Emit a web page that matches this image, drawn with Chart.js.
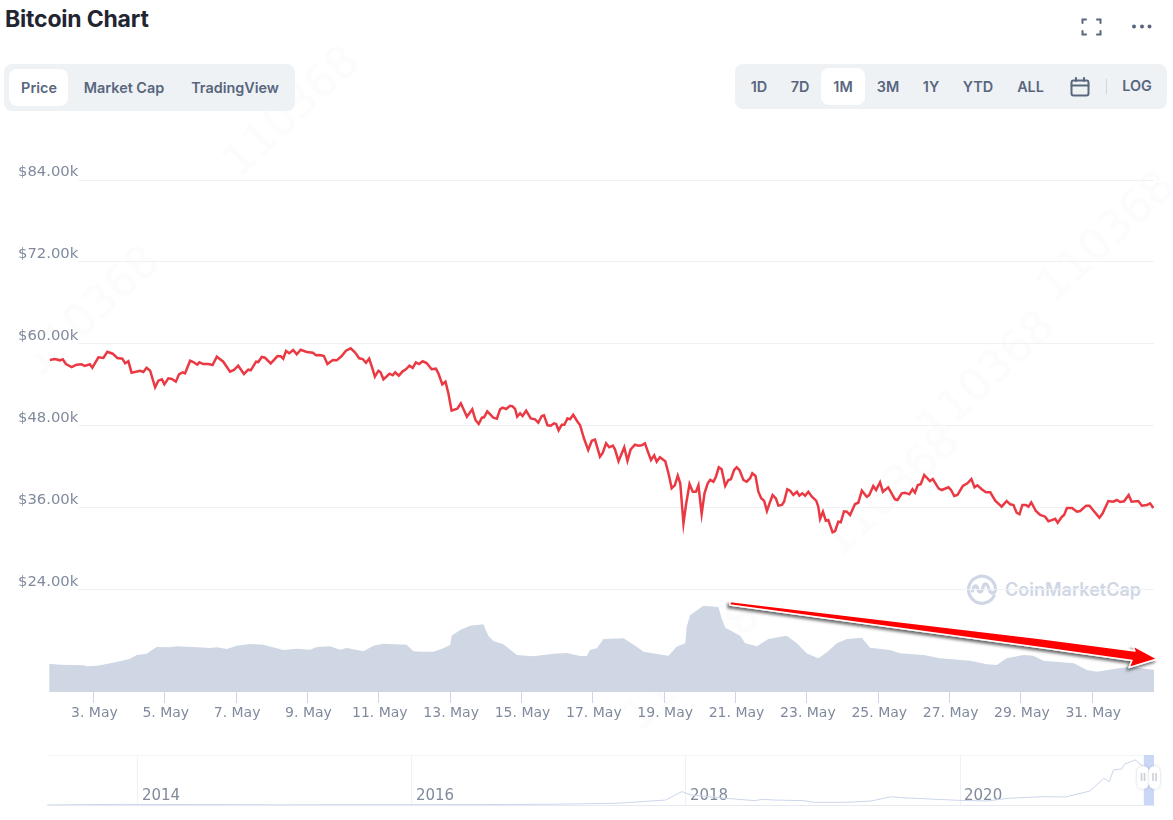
<!DOCTYPE html>
<html>
<head>
<meta charset="utf-8">
<title>Bitcoin Chart</title>
<script src="https://cdn.jsdelivr.net/npm/chart.js@4/dist/chart.umd.min.js"></script>
<style>
  html, body { margin: 0; padding: 0; background: #fff; }
  #page { position: relative; width: 1173px; height: 820px; overflow: hidden; font-family: Inter, sans-serif; }
  #page > * { position: absolute; }
  canvas { position: absolute; left: 0; }
  #chart-main { top: 0; }
  #chart-nav { top: 745px; }
  h1 { margin: 0; left: 5px; top: 5px; font-size: 23px; line-height: 28px; font-weight: 700; color: #222531; letter-spacing: -0.2px; }
  .panel { background: #eff2f5; border-radius: 8px; }
  .tab { position: absolute; top: 0; transform: translateX(-50%); font-size: 14.4px; font-weight: 600; color: #58667e; white-space: nowrap; }
  .chip { position: absolute; background: #fff; border-radius: 8px; }
  .mark { left: 967px; top: 574px; }
  .brand { left: 1005px; top: 578px; font-size: 18px; line-height: 24px; font-weight: 600; color: #cfd6e4; }
  .ghost { color: #fcfcfc; font-size: 44px; font-family: "DejaVu Sans", sans-serif; transform: translate(-50%, -50%) rotate(-43deg); white-space: nowrap; }
  .grip { background: #fff; border-radius: 7px; box-shadow: 0 0 3px rgba(120,130,150,.35); color: #ccd0d8; font-size: 11px; line-height: 23px; text-align: center; font-weight: 700; }
</style>
</head>
<body>
<div id="page">
  <span class="ghost" style="left:290px;top:110px">110368</span>
  <span class="ghost" style="left:90px;top:310px">110368</span>
  <span class="ghost" style="left:1105px;top:235px">110368</span>
  <span class="ghost" style="left:985px;top:375px">110368</span>
  <span class="ghost" style="left:690px;top:665px">110368</span>
  <span class="ghost" style="left:890px;top:490px">110368</span>

  <h1>Bitcoin Chart</h1>

  <svg style="left:1080px;top:16px" width="24" height="22" fill="none" stroke="#58667e" stroke-width="2" stroke-linecap="round">
    <path d="M2.5 7V3.5H6M17 3.5h3.5V7M2.5 15v3.5H6M17 18.5h3.5V15"/>
  </svg>
  <svg style="left:1130px;top:20px" width="24" height="12" fill="#58667e">
    <circle cx="4" cy="6.5" r="2"/><circle cx="12" cy="6.5" r="2"/><circle cx="19.5" cy="6.5" r="2"/>
  </svg>

  <div class="panel" style="left:4px;top:64px;width:291px;height:47px">
    <div class="chip" style="left:5px;top:5px;width:59px;height:37px"></div>
    <span class="tab" style="left:35px;top:15px">Price</span>
    <span class="tab" style="left:120px;top:15px">Market Cap</span>
    <span class="tab" style="left:231px;top:15px">TradingView</span>
  </div>

  <div class="panel" style="left:735px;top:64px;width:432px;height:45px">
    <div class="chip" style="left:86px;top:4px;width:44px;height:37px"></div>
    <span class="tab" style="left:24px;top:14px">1D</span>
    <span class="tab" style="left:65px;top:14px">7D</span>
    <span class="tab" style="left:108px;top:14px">1M</span>
    <span class="tab" style="left:153px;top:14px">3M</span>
    <span class="tab" style="left:196px;top:14px">1Y</span>
    <span class="tab" style="left:243px;top:14px">YTD</span>
    <span class="tab" style="left:295.500px;top:14px">ALL</span>
    <svg style="position:absolute;left:335px;top:13px" width="20" height="20" fill="none" stroke="#58667e" stroke-width="2" stroke-linecap="round">
      <rect x="1.500" y="3.500" width="17" height="15" rx="2"/><path d="M1.500 8.500h17M6 1v3M14 1v3"/>
    </svg>
    <div style="position:absolute;left:371px;top:15px;width:1px;height:15px;background:#cfd6e4"></div>
    <span class="tab" style="left:402px;top:13px">LOG</span>
  </div>

  <svg class="mark" width="32" height="32" fill="none" stroke="#cfd6e4" stroke-width="3.200" stroke-linecap="round" stroke-linejoin="round">
    <path d="M27 22a13.500 13.500 0 1 1 1.500-7c0 5-4.500 5-6 1.500l-2-5c-1-2.500-3.500-2-4 .5l-1.500 4.500c-.7 2.200-3 2.200-3.700 0l-1-3c-.8-2.400-3-2-3.800.5L5.500 17"/>
  </svg>
  <span class="brand">CoinMarketCap</span>

  <canvas id="chart-main" width="1173" height="750"></canvas>
  <canvas id="chart-nav" width="1173" height="70"></canvas>

  <div class="grip" style="left:1137px;top:766px;width:12px;height:23px">II</div>
  <div class="grip" style="left:1149px;top:766px;width:11px;height:23px">II</div>

  <svg style="left:700px;top:585px" width="473" height="100" viewBox="700 585 473 100">
    <defs>
      <filter id="drop" x="-5%" y="-30%" width="110%" height="170%">
        <feDropShadow dx="-2" dy="2.500" stdDeviation="1.600" flood-color="#000" flood-opacity=".6"/>
      </filter>
    </defs>
    <polygon points="730,601.500 1040,638.500 1135,651 1133,646 1157,659 1129,667.500 1132,660.500 1040,647.500 730,605" fill="#f00" stroke="#fff" stroke-width="1.400" stroke-linejoin="round" filter="url(#drop)"/>
  </svg>
</div>

<script>
// Price curve: day of May (fractions are hours into the day) and USD price
const priceDays = [
  1.78,1.92,2.06,2.14,2.23,2.39,2.53,2.67,2.76,2.90,2.97,3.14,3.28,3.39,3.54,3.67,3.81,3.89,3.98,4.07,
  4.31,4.40,4.49,4.59,4.73,4.82,4.92,4.99,5.10,5.20,5.31,5.40,5.50,5.57,5.71,5.80,5.91,5.97,6.08,6.22,
  6.34,6.46,6.64,6.83,6.94,7.06,7.22,7.34,7.41,7.56,7.62,7.72,7.81,7.97,8.16,8.25,8.32,8.40,8.49,8.60,
  8.70,8.81,8.98,9.15,9.24,
  9.35,9.46,9.56,9.71,9.82,9.96,10.08,10.21,10.33,10.45,10.55,10.64,10.73,10.82,10.89,10.99,11.05,11.13,11.30,11.39,
  11.46,11.56,11.67,11.76,11.86,11.95,12.04,12.13,12.23,12.34,12.48,12.60,12.67,12.78,12.87,12.95,13.04,13.20,13.30,13.47,
  13.62,13.71,13.80,13.89,13.95,14.04,14.21,14.31,14.40,14.47,14.57,14.68,14.74,14.82,14.88,14.96,15.03,15.13,15.26,15.38,
  15.47,15.57,15.63,15.73,15.82,15.91,15.97,16.04,16.13,16.20,16.29,16.36,16.45,16.57,16.64,16.75,16.87,16.97,17.06,
  17.20,17.28,17.37,17.46,17.56,17.62,17.72,17.88,17.97,18.06,18.18,18.28,18.37,18.46,18.56,18.63,18.72,18.79,18.88,19.03,
  19.12,19.21,19.30,19.38,19.45,19.54,19.61,19.71,19.80,19.89,19.96,20.05,20.13,20.22,20.29,20.38,20.45,20.53,20.61,20.71,
  20.80,20.87,20.96,21.03,21.11,21.22,21.31,21.41,21.47,21.56,21.64,21.72,21.80,21.88,21.97,22.04,22.13,22.20,22.30,22.36,
  22.45,22.53,22.62,22.72,22.79,22.87,22.95,23.04,23.14,23.26,23.32,23.37,23.45,23.53,23.60,23.72,23.79,23.88,23.95,24.04,
  24.12,24.21,24.35,24.44,24.54,24.68,24.75,24.86,24.94,
  25.05,25.13,25.28,25.47,25.54,25.66,25.75,25.87,25.96,26.03,26.11,26.19,26.29,26.45,26.53,26.69,26.78,26.97,27.04,27.13,
  27.22,27.37,27.50,27.61,27.70,27.78,27.90,28.02,28.14,28.28,28.46,28.60,28.70,28.79,28.88,28.96,29.04,29.14,29.21,29.29,
  29.42,29.54,29.68,29.77,29.96,30.03,30.15,30.21,30.29,30.43,30.57,30.66,30.83,30.92,31.20,31.29,31.45,31.59,31.69,31.78,
  31.89,32.02,32.10,32.29,32.39,32.53,32.62,32.71
];
const priceValues = [
  57660,57800,57610,57760,57070,56630,56970,57030,56780,57030,56530,58050,57950,58870,58580,57950,57850,57170,57470,55800,
  56090,55900,56530,56090,53660,54630,54830,54100,54980,54880,54480,55560,55860,55710,57550,57360,56970,57320,57070,57070,
  56930,58140,57410,55950,56200,56820,55610,56240,56150,57410,57360,58100,57990,57170,58240,58200,57850,58970,58640,59120,
  58490,59160,58830,58730,58350,
  58390,58240,57070,57660,57610,58240,59020,59370,58780,57910,57800,57260,57850,56440,55210,56090,55860,54830,55650,55420,
  55860,55360,56000,56300,56820,56490,57320,57070,57470,57220,56300,56390,55710,54100,54480,52780,50240,50530,51320,49360,
  50440,48880,48290,49210,49270,50150,49210,49070,50440,50680,50490,50970,50920,50490,49360,49860,49460,50240,49120,48980,
  48480,49460,49560,48100,48040,48390,48290,47370,48190,48190,49120,48980,49650,48630,48150,46200,44490,45850,46000,
  43510,44090,45470,44880,45120,44590,42830,44880,42920,44590,45260,45120,45170,45470,44000,43020,43710,42780,43420,42830,
  41080,38880,39360,40730,39610,33760,36440,39510,38380,38380,39320,35120,38150,39610,40100,39850,40580,41950,41660,39220,
  40100,40200,41560,41950,41560,40100,39850,40350,41080,40680,38380,37420,37070,35560,36920,37900,37420,36340,36440,36920,
  38740,38530,37900,38380,37800,38150,37800,38380,37650,37070,36190,34390,35460,34140,34240,32440,32630,33990,33910,35520,
  35460,34980,36580,36770,38530,37650,37900,39220,38630,
  39760,38380,39030,37270,37170,38150,38240,38000,38740,38240,39360,39470,40830,39950,40240,38880,38630,39030,38630,37760,
  37900,39220,39610,40240,39030,39320,38740,38300,38300,37070,36190,37020,36540,36440,35310,35080,36440,36440,36190,36830,
  35560,34980,34730,34050,34430,33850,34730,34980,36000,36000,35460,35560,36340,36340,34580,35220,37020,36920,37170,36880,
  36980,37900,36920,37020,36340,36440,36690,36000
];

// 24h volume in USD billions
const volumeDays = [
  1.76,2.06,2.72,2.81,3.09,3.37,3.65,4.03,4.21,4.49,4.77,5.15,5.33,5.80,6.27,6.46,6.74,7.02,7.39,7.76,
  8.14,8.32,8.70,9.07,9.26,9.63,9.91,10.10,10.57,10.85,11.13,11.78,11.97,
  12.16,12.53,12.81,13.00,13.04,13.28,13.56,13.93,14.07,14.21,14.49,14.87,15.33,15.90,16.27,16.64,16.83,16.92,17.11,17.30,
  17.86,18.23,18.42,18.98,19.12,19.35,19.59,19.63,19.73,20.10,20.52,20.61,20.71,21.13,21.27,21.60,21.92,22.43,22.72,22.99,
  23.32,23.56,23.84,24.12,24.54,24.77,25.33,25.61,26.27,26.73,27.58,28.04,28.32,28.60,29.07,29.35,29.63,30.48,30.85,31.13,
  31.60,32.07,32.53,32.76
];
const volumeValues = [
  41,39.6,38.7,37.2,38.2,40.6,43.5,48.3,53.7,55.6,65.3,64.8,66.3,65.3,63.8,64.8,62.4,67.1,69.6,68.6,
  63.4,60.9,62.8,61.3,65.3,66.3,61.3,63.8,59,67.1,70,68.6,59,
  58.5,58.5,63.4,68.2,81.6,89.9,96.1,98.2,81.6,74,69.2,53.7,51.8,55.5,56.6,52.2,52.2,60.9,63.4,76.9,
  77.9,65.7,58.4,53.7,52.6,65.7,70.6,94.7,111.7,125.1,123.3,106.9,93.2,81.6,70.6,66.3,76.9,81.6,70.6,56.1,
  48.9,57.6,70.6,76.9,78.7,64.2,60.9,56.1,53.7,48.9,45.4,40.2,39.2,48.9,53.7,52.6,45.4,41.6,31.9,29.4,
  33.4,36.7,33.4,31.9
];

const priceTicks = [24000, 36000, 48000, 60000, 72000, 84000];
const dayTicks = [3, 5, 7, 9, 11, 13, 15, 17, 19, 21, 23, 25, 27, 29, 31];

// Range navigator: full price history, year as a decimal and price in USD thousands
const navYears = [
  2013.34,2013.9,2014,2014.5,2015,2016,2016.5,2017,2017.5,2017.67,2017.85,2017.93,2017.97,2018.03,2018.29,2018.5,2018.56,2018.65,2018.86,2018.93,
  2019.17,2019.35,2019.5,2019.58,2019.78,2019.99,2020.2,2020.35,2020.6,2020.77,2020.95,2021.05,2021.09,2021.12,2021.18,2021.2,2021.28,2021.32,2021.35,2021.41
];
const navPrices = [
  0.13,0.9,0.8,0.6,0.3,0.43,0.65,1,2.5,4.7,7,15,19,14.5,9.5,6.2,8,7,6.2,3.8,
  3.8,5.7,11.8,10.4,8.5,6.6,5.7,9.5,11.8,11.4,20,38,33,50,51,58,64,57,54,36
];
const navYearTicks = [2014, 2016, 2018, 2020];
const navRange = [2021.34, 2021.416];

const AXIS_FONT = "'DejaVu Sans', sans-serif";
const LABEL_COLOR = '#808a9d';
const GRID_COLOR = '#eff2f5';

const toPoints = (xs, ys) => xs.map((x, i) => ({ x, y: ys[i] }));
const priceLabel = v => `$${(v / 1000).toFixed(2)}k`;

new Chart(document.getElementById('chart-main'), {
  data: {
    datasets: [
      {
        type: 'line',
        data: toPoints(priceDays, priceValues),
        yAxisID: 'y',
        borderColor: '#ea3943',
        borderWidth: 2.5,
        pointRadius: 0,
        tension: 0,
        order: 1,
      },
      {
        type: 'line',
        data: toPoints(volumeDays, volumeValues),
        yAxisID: 'vol',
        borderWidth: 0,
        backgroundColor: '#cfd6e4',
        fill: 'origin',
        pointRadius: 0,
        tension: 0,
        order: 2,
      },
    ],
  },
  options: {
    responsive: false,
    maintainAspectRatio: false,
    animation: false,
    layout: { padding: { left: 18, right: 19, top: 180, bottom: 18 } },
    plugins: { legend: { display: false }, tooltip: { enabled: false } },
    scales: {
      x: {
        type: 'linear',
        min: 0.886,
        max: 32.73,
        afterBuildTicks: s => { s.ticks = dayTicks.map(value => ({ value })); },
        afterFit: s => { s.height = 40; },
        grid: { drawOnChartArea: false, tickLength: 11, tickColor: '#ccd6eb' },
        border: { display: false },
        ticks: {
          autoSkip: false,
          maxRotation: 0,
          padding: 2,
          labelOffset: 1,
          color: LABEL_COLOR,
          font: { family: AXIS_FONT, size: 14 },
          callback: v => `${v}. May`,
        },
      },
      y: {
        min: 9073,
        max: 84000,
        afterBuildTicks: s => { s.ticks = priceTicks.map(value => ({ value })); },
        afterFit: s => { s.width = 0; },
        grid: { color: GRID_COLOR, drawTicks: false, z: -2 },
        border: { display: false },
        ticks: {
          mirror: true,
          padding: 0,
          autoSkip: false,
          color: LABEL_COLOR,
          font: { family: AXIS_FONT, size: 14.8, lineHeight: '15px' },
          // two lines so the visible one sits above its grid line
          callback: v => [priceLabel(v), ''],
        },
      },
      // same ticks, blank text: its backdrop stops the grid line short of the label
      gridStop: {
        position: 'left',
        min: 9073,
        max: 84000,
        afterBuildTicks: s => { s.ticks = priceTicks.map(value => ({ value })); },
        afterFit: s => { s.width = 0; },
        grid: { display: false },
        border: { display: false },
        ticks: {
          z: -1,
          mirror: true,
          padding: 0,
          autoSkip: false,
          color: 'rgba(0,0,0,0)',
          font: { family: AXIS_FONT, size: 14.8 },
          showLabelBackdrop: true,
          backdropColor: '#fff',
          backdropPadding: 0,
          callback: priceLabel,
        },
      },
      vol: {
        display: false,
        min: 0,
        max: 742.4,
      },
    },
  },
});

new Chart(document.getElementById('chart-nav'), {
  data: {
    datasets: [
      {
        type: 'line',
        data: toPoints(navYears, navPrices),
        borderColor: '#ccd6eb',
        borderWidth: 1,
        pointRadius: 0,
        tension: 0,
        order: 1,
      },
      {
        type: 'line',
        data: navRange.map(x => ({ x, y: 71 })),
        borderWidth: 0,
        backgroundColor: 'rgba(194,208,245,.85)',
        fill: 'origin',
        pointRadius: 0,
        order: 2,
      },
    ],
  },
  options: {
    responsive: false,
    maintainAspectRatio: false,
    animation: false,
    layout: { padding: { left: 47, right: 19, top: 10, bottom: 10 } },
    plugins: { legend: { display: false }, tooltip: { enabled: false } },
    scales: {
      x: {
        type: 'linear',
        // anchored to the value axis so the year labels can sit inside the plot
        position: { y: 0 },
        min: 2013.336,
        max: 2021.416,
        afterBuildTicks: s => { s.ticks = navYearTicks.map(value => ({ value })); },
        grid: { color: GRID_COLOR, drawTicks: false },
        border: { color: '#e6e9f0' },
        ticks: {
          autoSkip: false,
          maxRotation: 0,
          align: 'start',
          labelOffset: 4,
          padding: -18,
          color: LABEL_COLOR,
          font: { family: AXIS_FONT, size: 15 },
          callback: v => String(v),
        },
      },
      y: {
        min: 0,
        max: 71,
        afterBuildTicks: s => { s.ticks = [{ value: 71 }]; },
        afterFit: s => { s.width = 0; },
        grid: { color: '#f3f5f7', drawTicks: false },
        border: { display: false },
        ticks: { display: false },
      },
    },
  },
});
</script>
</body>
</html>
